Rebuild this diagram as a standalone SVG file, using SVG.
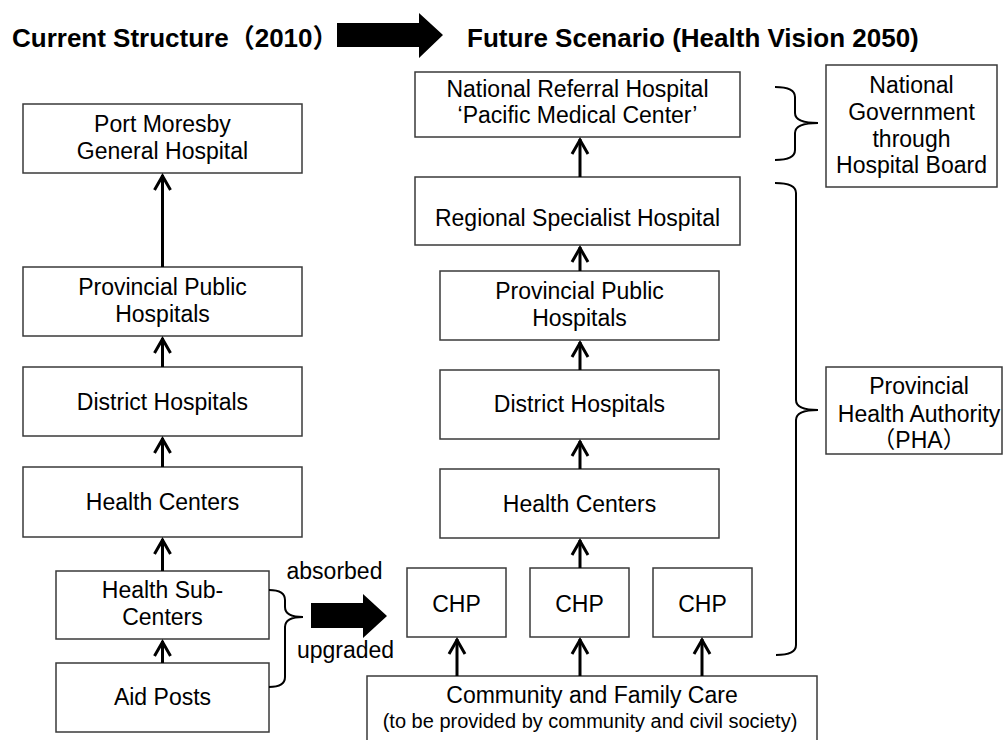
<svg xmlns="http://www.w3.org/2000/svg" width="1003" height="740" viewBox="0 0 1003 740">
  <style>
    .box { fill: #fff; stroke: #3a3a3a; stroke-width: 1.5; }
    .t { font-family: "Liberation Sans", Arial, "Noto Sans CJK JP", sans-serif; font-size: 23px; fill: #000; text-anchor: middle; }
    .small { font-size: 20px; }
    .head { font-family: "Liberation Sans", Arial, "Noto Sans CJK JP", sans-serif; font-size: 26px; font-weight: bold; fill: #000; }
    .conn { stroke: #000; stroke-width: 3; fill: none; marker-end: url(#chev); }
    .brace { stroke: #000; stroke-width: 2; fill: none; }
    .block { fill: #000; }
  </style>
  <defs>
    <marker id="chev" markerUnits="userSpaceOnUse" viewBox="-20 -12 24 24" markerWidth="24" markerHeight="24" refX="0" refY="0" orient="auto" overflow="visible">
      <path d="M-15,-8 L-1,0 L-15,8" stroke="#000" stroke-width="3" fill="none" stroke-linejoin="miter"/>
    </marker>
  </defs>

  <rect width="1003" height="740" fill="#fff"/>

  <!-- headings and transition arrow -->
  <g id="headings">
    <text class="head" x="12" y="47">Current Structure（2010）</text>
    <polygon class="block" points="337,23 419,23 419,13 443,35 419,58 419,47 337,47"/>
    <text class="head" x="467" y="47">Future Scenario (Health Vision 2050)</text>
  </g>

  <!-- current structure -->
  <g id="cur-pmgh">
    <rect class="box" x="23" y="104" width="279" height="69"/>
    <text class="t" x="162.5" y="132">Port Moresby</text>
    <text class="t" x="162.5" y="159">General Hospital</text>
  </g>
  <g id="cur-provincial">
    <rect class="box" x="23" y="267" width="279" height="69"/>
    <text class="t" x="162.5" y="295">Provincial Public</text>
    <text class="t" x="162.5" y="322">Hospitals</text>
  </g>
  <g id="cur-district">
    <rect class="box" x="23" y="367" width="279" height="69"/>
    <text class="t" x="162.5" y="410">District Hospitals</text>
  </g>
  <g id="cur-hc">
    <rect class="box" x="23" y="467" width="279" height="70"/>
    <text class="t" x="162.5" y="510">Health Centers</text>
  </g>
  <g id="cur-hsc">
    <rect class="box" x="56" y="571" width="213" height="68"/>
    <text class="t" x="162.5" y="598">Health Sub-</text>
    <text class="t" x="162.5" y="625">Centers</text>
  </g>
  <g id="cur-aid">
    <rect class="box" x="56" y="663" width="213" height="69"/>
    <text class="t" x="162.5" y="705">Aid Posts</text>
  </g>

  <!-- absorbed / upgraded transition -->
  <g id="transition">
    <path class="brace" d="M269,590 Q285,590 285,600 L285,607 Q285,617 303,617 Q285,617 285,627 L285,677 Q285,687 269,687"/>
    <polygon class="block" points="311,603 363,603 363,594 387,616 363,638 363,628 311,628"/>
    <text class="t" x="334.5" y="579">absorbed</text>
    <text class="t" x="345.5" y="658">upgraded</text>
  </g>

  <!-- future scenario -->
  <g id="fut-national">
    <rect class="box" x="415" y="72" width="325" height="65"/>
    <text class="t" x="577.5" y="97">National Referral Hospital</text>
    <text class="t" x="577.5" y="123">‘Pacific Medical Center’</text>
  </g>
  <g id="fut-regional">
    <rect class="box" x="415" y="177" width="325" height="68"/>
    <text class="t" x="577.5" y="226">Regional Specialist Hospital</text>
  </g>
  <g id="fut-provincial">
    <rect class="box" x="440" y="271" width="279" height="69"/>
    <text class="t" x="579.5" y="299">Provincial Public</text>
    <text class="t" x="579.5" y="326">Hospitals</text>
  </g>
  <g id="fut-district">
    <rect class="box" x="440" y="370" width="279" height="69"/>
    <text class="t" x="579.5" y="412">District Hospitals</text>
  </g>
  <g id="fut-hc">
    <rect class="box" x="440" y="469" width="279" height="69"/>
    <text class="t" x="579.5" y="512">Health Centers</text>
  </g>
  <g id="fut-chp1">
    <rect class="box" x="407" y="568" width="99" height="69"/>
    <text class="t" x="456.5" y="612">CHP</text>
  </g>
  <g id="fut-chp2">
    <rect class="box" x="530" y="568" width="99" height="69"/>
    <text class="t" x="579.5" y="612">CHP</text>
  </g>
  <g id="fut-chp3">
    <rect class="box" x="653" y="568" width="99" height="69"/>
    <text class="t" x="702.5" y="612">CHP</text>
  </g>
  <g id="fut-community">
    <rect class="box" x="367" y="676" width="450" height="80"/>
    <text class="t" x="592" y="703">Community and Family Care</text>
    <text class="t small" x="590" y="728">(to be provided by community and civil society)</text>
  </g>

  <!-- governance -->
  <g id="gov-national">
    <path class="brace" d="M775,87 Q795,87 795,97 L795,113 Q795,123 818,123 Q795,123 795,133 L795,150 Q795,160 775,160"/>
    <rect class="box" x="826" y="65" width="171" height="122"/>
    <text class="t" x="911.5" y="93">National</text>
    <text class="t" x="911.5" y="120">Government</text>
    <text class="t" x="911.5" y="147">through</text>
    <text class="t" x="911.5" y="173">Hospital Board</text>
  </g>
  <g id="gov-pha">
    <path class="brace" d="M775,183 Q796,183 796,193 L796,400 Q796,410 818,410 Q796,410 796,420 L796,645 Q796,655 776,655"/>
    <rect class="box" x="826" y="367" width="176" height="87"/>
    <text class="t" x="919" y="394">Provincial</text>
    <text class="t" x="919" y="422">Health Authority</text>
    <text class="t" x="919" y="448">（PHA）</text>
  </g>

  <!-- referral connectors -->
  <g id="connectors">
    <line class="conn" x1="162.5" y1="267" x2="162.5" y2="175"/>
    <line class="conn" x1="162.5" y1="367" x2="162.5" y2="338"/>
    <line class="conn" x1="162.5" y1="467" x2="162.5" y2="438"/>
    <line class="conn" x1="162.5" y1="571" x2="162.5" y2="539"/>
    <line class="conn" x1="162.5" y1="663" x2="162.5" y2="641"/>
    <line class="conn" x1="580" y1="177" x2="580" y2="139"/>
    <line class="conn" x1="580" y1="271" x2="580" y2="247"/>
    <line class="conn" x1="580" y1="370" x2="580" y2="342"/>
    <line class="conn" x1="580" y1="469" x2="580" y2="441"/>
    <line class="conn" x1="580" y1="568" x2="580" y2="540"/>
    <line class="conn" x1="457" y1="676" x2="457" y2="639"/>
    <line class="conn" x1="580" y1="676" x2="580" y2="639"/>
    <line class="conn" x1="702" y1="676" x2="702" y2="639"/>
  </g>
</svg>
